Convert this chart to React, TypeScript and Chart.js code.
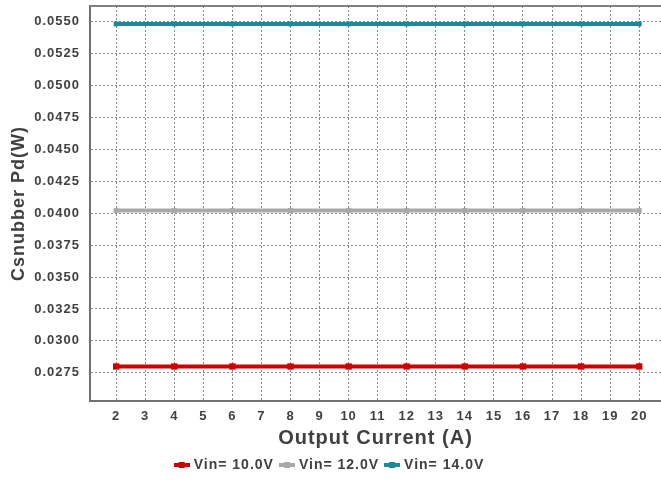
import React, { useEffect, useRef } from "react";
import { Chart, registerables } from "chart.js";

Chart.register(...registerables);

// Output current (A) sample points
const currents = [2, 4, 6, 8, 10, 12, 14, 16, 18, 20];
// Snubber capacitor dissipation (W) per input voltage
const vin10 = [0.028, 0.028, 0.028, 0.028, 0.028, 0.028, 0.028, 0.028, 0.028, 0.028];
const vin12 = [0.0402, 0.0402, 0.0402, 0.0402, 0.0402, 0.0402, 0.0402, 0.0402, 0.0402, 0.0402];
const vin14 = [0.0548, 0.0548, 0.0548, 0.0548, 0.0548, 0.0548, 0.0548, 0.0548, 0.0548, 0.0548];
const seriesNames = ["Vin= 10.0V", "Vin= 12.0V", "Vin= 14.0V"];
const seriesColors = ["#cc0000", "#a9a9a9", "#1b8a98"];
// Axis ticks
const xTicks = [2, 3, 4, 5, 6, 7, 8, 9, 10, 11, 12, 13, 14, 15, 16, 17, 18, 19, 20];
const yTicks = [0.0275, 0.03, 0.0325, 0.035, 0.0375, 0.04, 0.0425, 0.045, 0.0475, 0.05, 0.0525, 0.055];

const FONT = "'Liberation Sans', Arial, sans-serif";
const TEXT = "#404040";

function legendIcon(color: string): HTMLCanvasElement {
  const c = document.createElement("canvas");
  c.width = 16;
  c.height = 8;
  const g = c.getContext("2d")!;
  g.fillStyle = color;
  g.fillRect(0, 2, 16, 4);
  g.fillRect(5, 1, 6, 6);
  return c;
}

// Wider character spacing for all chart text
const spacing = {
  id: "spacing",
  beforeInit(chart: any) {
    chart.ctx.letterSpacing = "1px";
  },
  beforeUpdate(chart: any) {
    chart.ctx.letterSpacing = "1px";
  },
  beforeDraw(chart: any) {
    chart.ctx.letterSpacing = "1px";
  },
};

// Top edge of the plot frame
const frame = {
  id: "frame",
  beforeDatasetsDraw(chart: any) {
    const { ctx, chartArea } = chart;
    ctx.save();
    ctx.strokeStyle = "#808080";
    ctx.lineWidth = 2;
    ctx.beginPath();
    ctx.moveTo(chartArea.left, chartArea.top);
    ctx.lineTo(chartArea.right, chartArea.top);
    ctx.stroke();
    ctx.restore();
  },
};

export default function App() {
  const ref = useRef<HTMLCanvasElement>(null);

  useEffect(() => {
    const canvas = ref.current!;
    const c2d = canvas.getContext("2d") as any;
    c2d.letterSpacing = "1px";
    const data = [vin10, vin12, vin14];
    const chart = new Chart(canvas, {
      type: "line",
      data: {
        datasets: data.map((vals, i) => ({
          label: seriesNames[i],
          data: currents.map((x, j) => ({ x, y: vals[j] })),
          borderColor: seriesColors[i],
          backgroundColor: seriesColors[i],
          borderWidth: 4,
          pointStyle: "rect",
          pointRadius: i === 0 ? 4.5 : 3.5,
          pointBorderWidth: 0,
          tension: 0,
          clip: false,
        })),
      },
      options: {
        animation: false,
        responsive: false,
        layout: { autoPadding: false, padding: { top: 6, right: 0, left: 0, bottom: 0 } },
        plugins: {
          tooltip: { enabled: false },
          legend: {
            position: "bottom",
            labels: {
              usePointStyle: true,
              pointStyleWidth: 10,
              generateLabels: (ch: any) =>
                ch.data.datasets.map((d: any, i: number) => ({
                  text: d.label,
                  pointStyle: legendIcon(seriesColors[i]),
                  fillStyle: seriesColors[i],
                  strokeStyle: seriesColors[i],
                  fontColor: TEXT,
                  lineWidth: 0,
                  datasetIndex: i,
                  hidden: false,
                })),
              font: { family: FONT, size: 14, weight: "bold" },
              color: TEXT,
              padding: 8,
            },
          },
        },
        scales: {
          x: {
            type: "linear",
            min: 1.1,
            max: 20.75,
            afterBuildTicks: (s: any) => {
              s.ticks = xTicks.map((v) => ({ value: v }));
            },
            afterFit: (s: any) => {
              s.height = 49;
              s.paddingLeft = 0;
              s.paddingRight = 0;
            },
            ticks: {
              font: { family: FONT, size: 13, weight: "bold" },
              color: TEXT,
              padding: 8,
              maxRotation: 0,
              autoSkip: false,
            },
            grid: { color: "#8a8a8a", lineWidth: 1, drawTicks: false },
            border: { display: true, color: "#707070", width: 2, dash: [2, 2] },
            title: {
              display: true,
              text: "Output Current (A)",
              font: { family: FONT, size: 20, weight: "bold" },
              color: TEXT,
              padding: { top: 4, bottom: 0 },
            },
          },
          y: {
            type: "linear",
            min: 0.0253,
            max: 0.0562,
            afterBuildTicks: (s: any) => {
              s.ticks = yTicks.map((v) => ({ value: v }));
            },
            afterFit: (s: any) => {
              s.width = 90;
              s.paddingTop = 0;
              s.paddingBottom = 0;
            },
            ticks: {
              font: { family: FONT, size: 13, weight: "bold" },
              color: TEXT,
              padding: 10,
              callback: (v: any) => Number(v).toFixed(4),
            },
            grid: { color: "#8a8a8a", lineWidth: 1, drawTicks: false },
            border: { display: true, color: "#707070", width: 2, dash: [2, 2] },
            title: {
              display: true,
              text: "Csnubber Pd(W)",
              font: { family: FONT, size: 18, weight: "bold" },
              color: TEXT,
              padding: { top: 8, bottom: 0 },
            },
          },
        },
      },
      plugins: [spacing, frame],
    });
    return () => chart.destroy();
  }, []);

  return (
    <div style={{ position: "fixed", left: 0, top: 0, width: 661, height: 482, background: "#fff" }}>
      <canvas ref={ref} width={661} height={482} />
    </div>
  );
}
